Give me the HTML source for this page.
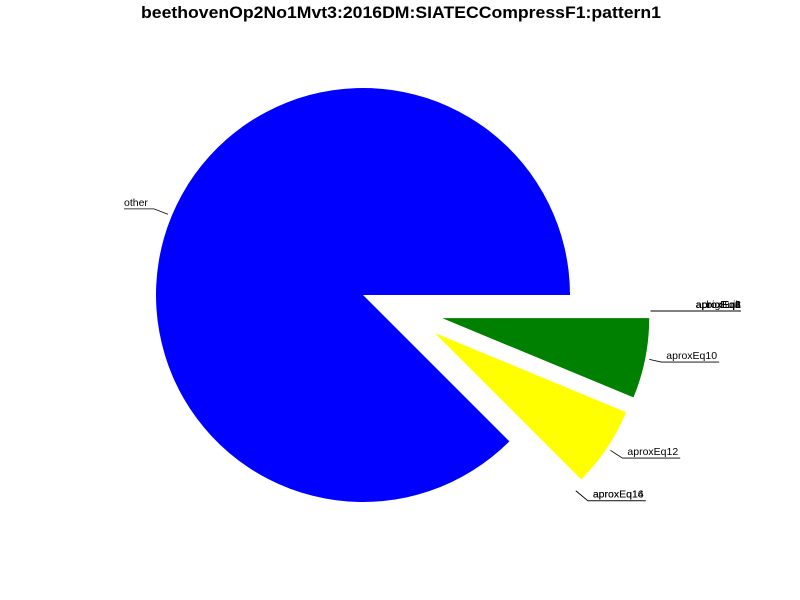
<!DOCTYPE html>
<html><head><meta charset="utf-8"><style>
body{margin:0;background:#fff}
svg{display:block;font-family:"Liberation Sans","DejaVu Sans",sans-serif}
</style></head><body>
<svg id="chart" width="800" height="600">
<rect width="800" height="600" fill="#fff"/>
<text x="401" y="18" text-anchor="middle" font-size="16.5" font-weight="bold" textLength="520" lengthAdjust="spacingAndGlyphs">beethovenOp2No1Mvt3:2016DM:SIATECCompressF1:pattern1</text>
<g id="slices"></g>
<g id="labels" font-size="10.5" fill="#000"></g>
</svg>
<script>
const categories = ["other","aproxEq14","aproxEq16","aproxEq12","aproxEq10","aproxEq2","aproxEq4","aproxEq6","aproxEq8","bigBuilt"];
const values = [14, 0, 0, 1, 1, 0, 0, 0, 0, 0];
const colors = ["#0000ff","#0000ff","#0000ff","#ffff00","#008000","#008000","#008000","#008000","#008000","#008000"];
const explode = [0, 0.4, 0.4, 0.4, 0.4, 0.4, 0.4, 0.4, 0.4, 0.4];

const cx = 363, cy = 295, R = 207;
const ns = "http://www.w3.org/2000/svg";
const total = values.reduce((a,b)=>a+b,0);
const gS = document.getElementById('slices'), gL = document.getElementById('labels');
let a0 = 0;
values.forEach((v,i)=>{
  const span = v/total*360;
  const a1 = a0 + span, mid = (a0+a1)/2*Math.PI/180;
  const c = Math.cos(mid), s = Math.sin(mid);
  let ox = cx + explode[i]*R*c, oy = cy - explode[i]*R*s;
  if (explode[i] > 0) {
    if (s < -0.5) { ox += (v>0?3:5); oy -= (v>0?8:12); }
    else if (s < -0.05) { ox -= 2; oy += 7; }
  }
  if (v > 0) {
    const r0 = a0*Math.PI/180, r1 = a1*Math.PI/180;
    const x0 = ox + R*Math.cos(r0), y0 = oy - R*Math.sin(r0);
    const x1 = ox + R*Math.cos(r1), y1 = oy - R*Math.sin(r1);
    const p = document.createElementNS(ns,'path');
    p.setAttribute('d',`M${ox},${oy} L${x0},${y0} A${R},${R} 0 ${span>180?1:0} 0 ${x1},${y1} Z`);
    p.setAttribute('fill',colors[i]);
    
    
    gS.appendChild(p);
  }
  const flat = v===0 && Math.abs(s)<0.05;
  let ax = ox + R*1.02*c, ay = oy - R*1.02*s;
  if (flat) { ax = ox + R*0.99; ay = oy + 16; }
  const right = c >= 0;
  const bx = flat ? ax : ax + (right?12:-14);
  const by = flat ? ay : ay - 14*s;
  const t = document.createElementNS(ns,'text');
  t.textContent = categories[i];
  
  
  gL.appendChild(t);
  const w = t.getComputedTextLength();
  t.setAttribute('y', by-3);
  let x2l;
  if (flat) { t.setAttribute('text-anchor','end'); t.setAttribute('x', bx+90); x2l = bx+90; }
  else if (right) { t.setAttribute('x', bx+5); x2l = bx+w+7; }
  else { t.setAttribute('x', bx-w-6); x2l = bx-w-6; }
  const l = document.createElementNS(ns,'polyline');
  l.setAttribute('points',`${ax},${ay} ${bx},${by} ${x2l},${by}`);
  l.setAttribute('fill','none'); l.setAttribute('stroke','#000'); l.setAttribute('stroke-width','0.8');
  
  
  gL.appendChild(l);
  a0 = a1;
});
</script>
</body></html>
